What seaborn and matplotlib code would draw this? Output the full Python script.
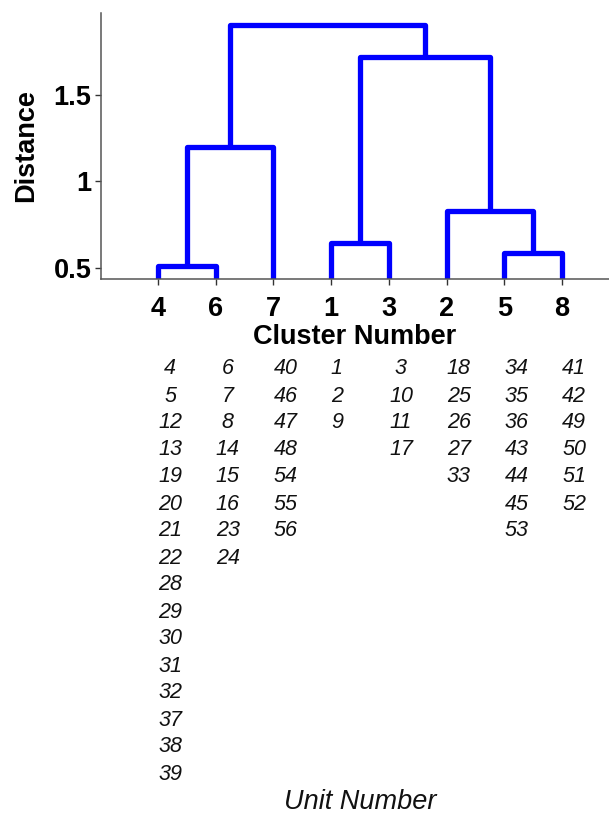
import matplotlib
matplotlib.use("Agg")
import matplotlib.pyplot as plt
import seaborn as sns
import pandas as pd
import numpy as np

# ---- data ----
leaf_order = ["4", "6", "7", "1", "3", "2", "5", "8"]
# merges: (left child, right child, height); children are leaf labels or merge ids "m0", "m1", ...
merge_left = ["4", "m0", "1", "5", "2", "m2", "m1"]
merge_right = ["6", "7", "3", "8", "m3", "m4", "m5"]
merge_height = [0.51, 1.20, 0.645, 0.587, 0.83, 1.72, 1.905]

unit_members = {
    "4": [4, 5, 12, 13, 19, 20, 21, 22, 28, 29, 30, 31, 32, 37, 38, 39],
    "6": [6, 7, 8, 14, 15, 16, 23, 24],
    "7": [40, 46, 47, 48, 54, 55, 56],
    "1": [1, 2, 9],
    "3": [3, 10, 11, 17],
    "2": [18, 25, 26, 27, 33],
    "5": [34, 35, 36, 43, 44, 45, 53],
    "8": [41, 42, 49, 50, 51, 52],
}
y_ticks = [0.5, 1.0, 1.5]
y_tick_labels = ["0.5", "1", "1.5"]

# ---- build segments ----
leaf_h = 0.0
pos = {lab: i + 1 for i, lab in enumerate(leaf_order)}
hgt = {lab: leaf_h for lab in leaf_order}
rows = []
for k, (a, b, h) in enumerate(zip(merge_left, merge_right, merge_height)):
    xa, xb = pos[a], pos[b]
    for px, py in [(xa, hgt[a]), (xa, h), (xb, h), (xb, hgt[b])]:
        rows.append({"seg": k, "x": px, "y": py})
    pos[f"m{k}"] = (xa + xb) / 2
    hgt[f"m{k}"] = h
df = pd.DataFrame(rows)

# ---- plot ----
sns.set_theme(style="ticks")
plt.rcParams["font.family"] = ["Liberation Sans", "DejaVu Sans"]

fig = plt.figure(figsize=(6.09, 8.14), dpi=100)
ax_b = 1 - 279 / 814
ax_h = (279 - 13) / 814
ax = fig.add_axes([101 / 609, ax_b, 1 - 101 / 609, ax_h])

sns.lineplot(data=df, x="x", y="y", units="seg", estimator=None, sort=False,
             color="#0000FF", linewidth=3.8, ax=ax, legend=False)
for ln in ax.get_lines():
    ln.set_solid_joinstyle("round")
    ln.set_solid_capstyle("butt")

ax.set_xlim(0.012, 8.815)
ax.set_ylim(0.4364, 1.974)
ax.set_xticks(range(1, len(leaf_order) + 1))
ax.set_xticklabels(leaf_order, fontsize=19.5, fontweight="bold", color="black")
ax.set_yticks(y_ticks)
ax.set_yticklabels(y_tick_labels, fontsize=19.5, fontweight="bold", color="black")
ax.tick_params(axis="both", length=4, width=1, color="#333333", pad=3)
ax.tick_params(axis="x", pad=8)
for s in ["top", "right"]:
    ax.spines[s].set_visible(False)
for s in ["left", "bottom"]:
    ax.spines[s].set_color("#555555")
    ax.spines[s].set_linewidth(1.1)
ax.set_xlabel("Cluster Number", fontsize=19.5, fontweight="bold", color="black", labelpad=2)
ax.set_ylabel("Distance", fontsize=19.5, fontweight="bold", color="black", labelpad=10)

# unit number columns below the axis
col_shift = {"1": 0.1}
trans = ax.get_xaxis_transform()
row_step = 27.0 / 814
y0 = 1 - 369 / 814
for lab in leaf_order:
    xpos = leaf_order.index(lab) + 1 + col_shift.get(lab, 0.21)
    for r, u in enumerate(unit_members[lab]):
        yfig = y0 - r * row_step
        yax = (yfig - ax_b) / ax_h
        ax.text(xpos, yax, str(u), transform=trans, ha="center", va="center",
                fontsize=15.5, fontstyle="italic", color="#111111", clip_on=False)

fig.text(360 / 609, 1 - 802 / 814, "Unit Number", ha="center", va="center",
         fontsize=19.5, fontstyle="italic", color="#111111")

fig.savefig("out.png", dpi=100)
